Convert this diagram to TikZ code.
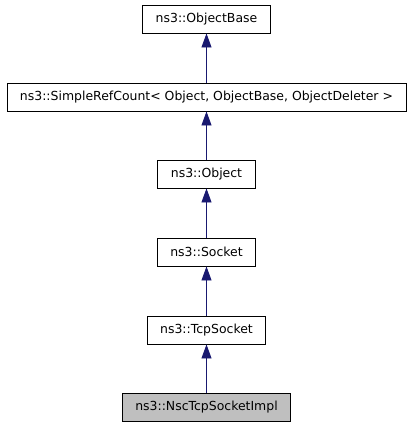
\documentclass[tikz,border=0pt]{standalone}
\usepackage{fontspec}
\setmainfont{DejaVu Sans}
\usetikzlibrary{arrows.meta}
\definecolor{edgeblue}{RGB}{25,25,112}
\definecolor{boxgray}{RGB}{191,191,191}
\tikzset{
  classbox/.style={draw=black,fill=white,inner xsep=13bp,inner ysep=0pt,minimum height=28bp,line width=0.9pt,font=\fontsize{12.5}{14}\selectfont},
  inherit/.style={edgeblue,line width=0.9pt,-{Triangle[length=14bp,width=10bp]}}
}
\begin{document}
\begin{tikzpicture}[x=1bp,y=-1bp]
			\useasboundingbox (0,0) rectangle (413,427);
			\node[classbox] (base) at (206.5,19) {ns3::ObjectBase};
			\node[classbox] (refcount) at (206.5,97) {ns3::SimpleRefCount< Object, ObjectBase, ObjectDeleter >};
			\node[classbox] (object) at (206.5,174) {ns3::Object};
			\node[classbox] (socket) at (206.5,252) {ns3::Socket};
			\node[classbox] (tcpsocket) at (206.5,330) {ns3::TcpSocket};
			\node[classbox,fill=boxgray] (nsc) at (206.5,407) {ns3::NscTcpSocketImpl};
			% arrows point to the parent class
			\draw[inherit] (refcount) -- (base);
			\draw[inherit] (object) -- (refcount);
			\draw[inherit] (socket) -- (object);
			\draw[inherit] (tcpsocket) -- (socket);
			\draw[inherit] (nsc) -- (tcpsocket);
\end{tikzpicture}
\end{document}
